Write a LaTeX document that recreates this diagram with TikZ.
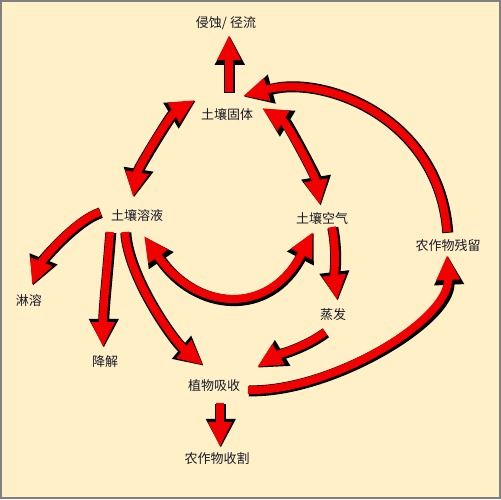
\documentclass[tikz,border=0pt]{standalone}
\usepackage{fontspec}
\newfontfamily\cjk{Noto Sans CJK SC}
\usetikzlibrary{arrows.meta}
\definecolor{bg}{RGB}{255,240,200}
\definecolor{ink}{RGB}{25,25,40}
\definecolor{arr}{RGB}{240,0,0}
\tikzset{
 lbl/.style={font=\cjk\fontsize{13}{15}\selectfont, text=ink, inner sep=1pt},
 fat/.style={draw=arr, line width=8pt, -{Triangle[length=25pt,width=22pt]},
   preaction={draw=black, line width=11pt, -{Triangle[length=29pt,width=28pt]},
     transform canvas={xshift=0.8pt,yshift=-0.8pt}}},
 fatboth/.style={draw=arr, line width=8pt, {Triangle[length=25pt,width=22pt]}-{Triangle[length=25pt,width=22pt]},
   preaction={draw=black, line width=11pt, {Triangle[length=29pt,width=28pt]}-{Triangle[length=29pt,width=28pt]},
     transform canvas={xshift=0.8pt,yshift=-0.8pt}}}
}
\begin{document}
\begin{tikzpicture}[x=1pt,y=-1pt]
\useasboundingbox (0,0) rectangle (501,499);
\fill[bg] (0,0) rectangle (501,499);
\draw[gray, line width=2pt] (1,1) rectangle (500,498);

\node[lbl] (qs) at (226,23) {侵蚀/ 径流};
\node[lbl] (gt) at (227,115) {土壤固体};
\node[lbl] (ry) at (137,215) {土壤溶液};
\node[lbl] (kq) at (322,218) {土壤空气};
\node[lbl] (cl) at (448,246) {农作物残留};
\node[lbl] (lr) at (29,301) {淋溶};
\node[lbl] (jj) at (105,362) {降解};
\node[lbl] (zf) at (333,315) {蒸发};
\node[lbl] (xs) at (214,386) {植物吸收};
\node[lbl] (sg) at (217,459) {农作物收割};

\draw[fat] ([shift={(2,-23)}]gt.center) -- ([shift={(3,12)}]qs.center);
\draw[fatboth] ([shift={(-32,-15)}]gt.center) .. controls +(-25,15) and +(5,-30) .. ([shift={(-4,-18)}]ry.center);
\draw[fatboth] ([shift={(35,-7)}]gt.center) .. controls +(25,15) and +(-5,-30) .. ([shift={(-2,-13)}]kq.center);
\draw[fat] ([shift={(-1,-14)}]cl.center) .. controls +(-8,-115) and +(80,-22) .. ([shift={(16,-19)}]gt.center);
\draw[fat] ([shift={(-37,-3)}]ry.center) .. controls +(-25,8) and +(10,-25) .. ([shift={(3,-16)}]lr.center);
\draw[fat] ([shift={(-27,17)}]ry.center) .. controls +(-3,40) and +(0,-40) .. ([shift={(-2,-15)}]jj.center);
\draw[fat] ([shift={(-12,17)}]ry.center) .. controls +(3,45) and +(-30,-25) .. ([shift={(-11,-21)}]xs.center);
\draw[fatboth] ([shift={(7,21)}]ry.center) .. controls +(51,74) and +(-45,86) .. ([shift={(-9,14)}]kq.center);
\draw[fat] ([shift={(10,9)}]kq.center) .. controls +(5,25) and +(-3,-25) .. ([shift={(4,-15)}]zf.center);
\draw[fat] ([shift={(-8,17)}]zf.center) .. controls +(-20,15) and +(20,-12) .. ([shift={(43,-19)}]xs.center);
\draw[fat] ([shift={(34,4)}]xs.center) .. controls +(82,2) and +(3,65) .. ([shift={(-1,9)}]cl.center);
\draw[fat] ([shift={(6,17)}]xs.center) -- ([shift={(3,-12)}]sg.center);
\end{tikzpicture}
\end{document}
